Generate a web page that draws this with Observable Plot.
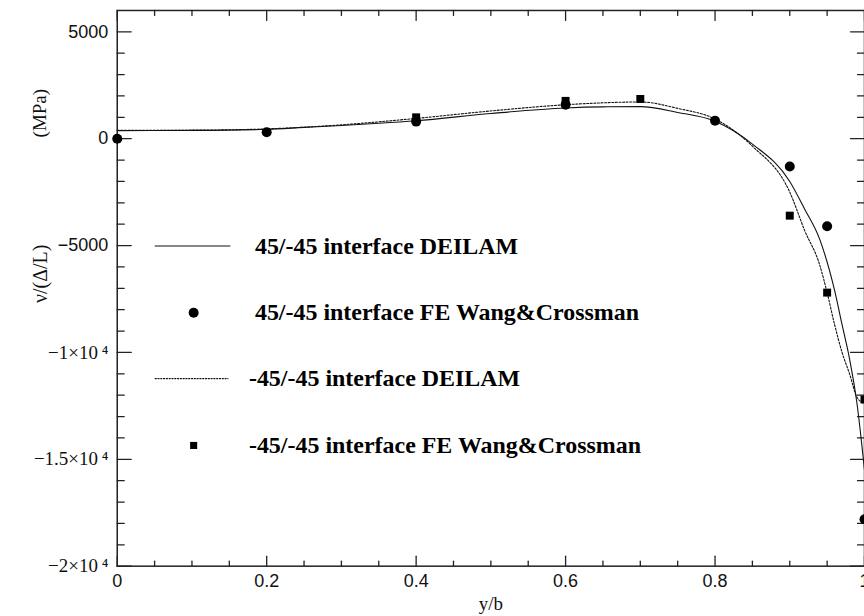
<!DOCTYPE html>
<html><head><meta charset="utf-8">
<script src="https://cdn.jsdelivr.net/npm/d3@7"></script>
<script src="https://cdn.jsdelivr.net/npm/@observablehq/plot@0.6"></script>
<style>
html,body{margin:0;padding:0;background:#fff;overflow:hidden;}
#chart{width:864px;height:616px;overflow:hidden;}
</style></head><body><div id="chart"></div>
<script>
// 45/-45 interface DEILAM (solid curve)
const solidX = [0, 0.1, 0.2, 0.25, 0.3, 0.35, 0.4, 0.5, 0.6, 0.65, 0.7, 0.75, 0.8, 0.85, 0.9, 0.92, 0.94, 0.96, 0.97, 0.98, 0.99, 1.0];
const solidY = [380, 390, 440, 530, 620, 720, 840, 1180, 1440, 1490, 1500, 1230, 820, -250, -2000, -3300, -4700, -7100, -8700, -10300, -12400, -15500];
// -45/-45 interface DEILAM (dotted curve)
const dotX = [0, 0.1, 0.2, 0.3, 0.4, 0.5, 0.6, 0.65, 0.7, 0.75, 0.8, 0.85, 0.9, 0.92, 0.94, 0.95, 0.96, 0.97, 0.98, 0.99, 1.0];
const dotY = [390, 400, 460, 650, 950, 1300, 1590, 1680, 1720, 1420, 920, -350, -2500, -4300, -5900, -7200, -8700, -10000, -11000, -12100, -12400];
// 45/-45 interface FE Wang&Crossman (circles)
const circX = [0, 0.2, 0.4, 0.6, 0.8, 0.9, 0.95, 1.0];
const circY = [0, 300, 800, 1590, 840, -1300, -4100, -17800];
// -45/-45 interface FE Wang&Crossman (squares)
const sqX = [0.4, 0.6, 0.7, 0.9, 0.95, 1.0];
const sqY = [1000, 1770, 1860, -3600, -7200, -12200];

const xMajor = [0, 0.2, 0.4, 0.6, 0.8, 1];
const xTickLabels = ["0", "0.2", "0.4", "0.6", "0.8", "1"];
const xMinor = [0.05, 0.1, 0.15, 0.25, 0.3, 0.35, 0.45, 0.5, 0.55, 0.65, 0.7, 0.75, 0.85, 0.9, 0.95];
const yMajor = [5000, 0, -5000, -10000, -15000, -20000];
const yTickLabels = ["5000", "0", "\u22125000", "\u22121\u00d710\u2009\u2074", "\u22121.5\u00d710\u2009\u2074", "\u22122\u00d710\u2009\u2074"];
const yMinor = [4000, 3000, 2000, 1000, -1000, -2000, -3000, -4000, -6000, -7000, -8000, -9000, -11000, -12000, -13000, -14000, -16000, -17000, -18000, -19000];
const legendLabels = ["45/-45 interface DEILAM", "45/-45 interface FE Wang&Crossman", "-45/-45 interface DEILAM", "-45/-45 interface FE Wang&Crossman"];

const solid = solidX.map((x, i) => ({x, y: solidY[i]}));
const dotted = dotX.map((x, i) => ({x, y: dotY[i]}));
const circles = circX.map((x, i) => ({x, y: circY[i]}));
const squares = sqX.map((x, i) => ({x, y: sqY[i]}));
const xLab = new Map(xMajor.map((d, i) => [d, xTickLabels[i]]));
const yLab = new Map(yMajor.map((d, i) => [d, yTickLabels[i]]));

const ink = "#222";
const tickShape = {draw(ctx, l) { ctx.moveTo(0, 0); ctx.lineTo(0, -l); }};
const tk = (data, ch, frameAnchor, rotate, length) =>
  Plot.vector(data, {[ch]: d => d, frameAnchor, rotate, length, anchor: "start", shape: tickShape, stroke: ink, strokeWidth: 1.3});

const serif = "Liberation Serif";
const sans = "Liberation Sans";

const plot = Plot.plot({
  width: 866, height: 616,
  marginLeft: 117, marginRight: 0, marginTop: 10, marginBottom: 49,
  x: {domain: [0, 1], axis: null},
  y: {domain: [-20000, 6000], axis: null},
  marks: [
    Plot.frame({stroke: ink, strokeWidth: 1.5}),
    tk(xMajor, "x", "bottom", 0, 10), tk(xMinor, "x", "bottom", 0, 5),
    tk(xMajor, "x", "top", 180, 10), tk(xMinor, "x", "top", 180, 5),
    tk(yMajor, "y", "left", 90, 14), tk(yMinor, "y", "left", 90, 7),
    tk(yMajor, "y", "right", -90, 14), tk(yMinor, "y", "right", -90, 7),
    Plot.axisX({ticks: xMajor, tickSize: 0, tickPadding: 8, tickFormat: d => xLab.get(d), fontSize: 18, fontFamily: sans, fill: "#111", label: null, ariaLabel: "xlab"}),
    Plot.axisY({ticks: yMajor.slice(0, 3), tickSize: 0, tickPadding: 9, tickFormat: d => yLab.get(d), fontSize: 18, fontFamily: sans, fill: "#111", label: null, ariaLabel: "ylabsans"}),
    Plot.axisY({ticks: yMajor.slice(3), tickSize: 0, tickPadding: 9, tickFormat: d => yLab.get(d), fontSize: 19, fontFamily: serif, fill: "#111", label: null, ariaLabel: "ylabserif"}),
    Plot.text(["y/b"], {text: d => d, frameAnchor: "bottom", dy: 38, lineAnchor: "middle", fontSize: 19, fontFamily: serif, fill: "#111"}),
    Plot.text(["(MPa)"], {text: d => d, frameAnchor: "top-left", dx: -77, dy: 103, rotate: -90, textAnchor: "middle", lineAnchor: "middle", fontSize: 19, fontFamily: serif, fill: "#111", ariaLabel: "mpalab"}),
    Plot.text(["\u03bd/(\u0394/L)"], {text: d => d, frameAnchor: "top-left", dx: -77, dy: 264, rotate: -90, textAnchor: "middle", lineAnchor: "middle", fontSize: 20, fontFamily: serif, fill: "#111", ariaLabel: "nulab"}),
    Plot.line(dotted, {x: "x", y: "y", curve: "monotone-x", stroke: "#111", strokeWidth: 1.1, strokeDasharray: "2,1.6"}),
    Plot.line(solid, {x: "x", y: "y", curve: "monotone-x", stroke: "#111", strokeWidth: 1.1}),
    Plot.dot(circles, {x: "x", y: "y", r: 5, fill: "#000", stroke: null}),
    Plot.dot(squares, {x: "x", y: "y", symbol: "square", r: 4.5, fill: "#000", stroke: null}),
    // legend
    Plot.vector([0], {frameAnchor: "top-left", dx: 38, dy: 236, rotate: 90, length: 75, anchor: "start", shape: tickShape, stroke: "#111", strokeWidth: 1.1}),
    Plot.dot([0], {frameAnchor: "top-left", dx: 76.6, dy: 303, r: 5, fill: "#000", stroke: null}),
    Plot.vector([0], {frameAnchor: "top-left", dx: 38, dy: 369, rotate: 90, length: 73, anchor: "start", shape: tickShape, stroke: "#111", strokeWidth: 1.1, strokeDasharray: "1.2,1.6"}),
    Plot.dot([0], {frameAnchor: "top-left", dx: 76.6, dy: 436, symbol: "square", r: 4, fill: "#000", stroke: null}),
    Plot.text([legendLabels[0]], {text: d => d, frameAnchor: "top-left", dx: 138, dy: 236, textAnchor: "start", lineAnchor: "middle", fontSize: 24, fontWeight: "bold", fontFamily: serif, fill: "#000"}),
    Plot.text([legendLabels[1]], {text: d => d, frameAnchor: "top-left", dx: 138, dy: 303, textAnchor: "start", lineAnchor: "middle", fontSize: 24, fontWeight: "bold", fontFamily: serif, fill: "#000"}),
    Plot.text([legendLabels[2]], {text: d => d, frameAnchor: "top-left", dx: 132, dy: 369, textAnchor: "start", lineAnchor: "middle", fontSize: 24, fontWeight: "bold", fontFamily: serif, fill: "#000"}),
    Plot.text([legendLabels[3]], {text: d => d, frameAnchor: "top-left", dx: 132, dy: 436, textAnchor: "start", lineAnchor: "middle", fontSize: 24, fontWeight: "bold", fontFamily: serif, fill: "#000"})
  ]
});
document.getElementById("chart").append(plot);
function stretch(sel, k) {
  plot.querySelectorAll(sel).forEach(t => {
    const w = t.getComputedTextLength();
    t.setAttribute("textLength", (w * k).toFixed(1));
    t.setAttribute("lengthAdjust", "spacingAndGlyphs");
  });
}
stretch('g[aria-label="xlab"] text', 1.4);
stretch('g[aria-label="ylabsans"] text', 1.25);
stretch('g[aria-label="ylabserif"] text', 1.4);
stretch('g[aria-label="nulab"] text', 1.4);
</script></body></html>
